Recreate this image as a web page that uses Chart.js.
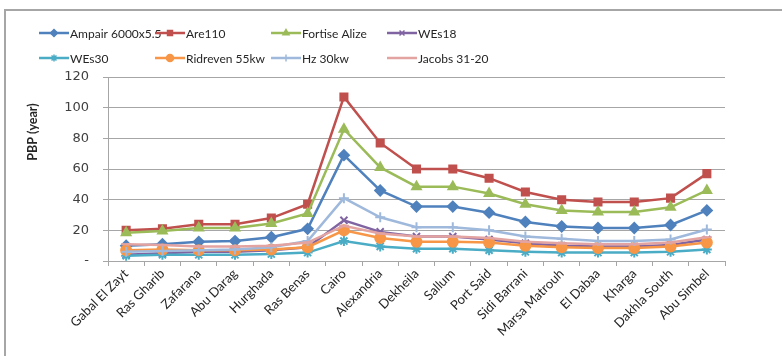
<!DOCTYPE html>
<html>
<head>
<meta charset="utf-8">
<script src="https://cdn.jsdelivr.net/npm/chart.js@4.4.1/dist/chart.umd.min.js"></script>
<style>
  html, body { margin: 0; padding: 0; background: #fff; }
  #wrap { position: relative; width: 782px; height: 356px; overflow: hidden; }
  #frame { position: absolute; left: 4px; top: 9px; width: 900px; height: 500px;
           border-top: 2px solid #a6a6a6; border-left: 2px solid #a6a6a6; }
  #pbpChart { position: absolute; left: 0; top: 0; }
</style>
</head>
<body>
<div id="wrap">
  <div id="frame"></div>
  <canvas id="pbpChart" width="782" height="356"></canvas>
</div>
<script>
// Sites (x axis categories)
const sites = ['Gabal El Zayt', 'Ras Gharib', 'Zafarana', 'Abu Darag', 'Hurghada', 'Ras Benas',
    'Cairo', 'Alexandria', 'Dekheila', 'Sallum', 'Port Said', 'Sidi Barrani', 'Marsa Matrouh',
    'El Dabaa', 'Kharga', 'Dakhla South', 'Abu Simbel'];

// Pay back period (years) per turbine
const ampair = [10, 11, 12.5, 13, 15.5, 21, 69, 46, 35.5, 35.5, 31.5, 25.5, 22.5, 21.5, 21.5, 23.5, 33];
const are110 = [20, 21, 24, 24, 28, 37, 107, 77, 60, 60, 54, 45, 40, 38.5, 38.5, 41, 57];
const fortise = [18.5, 19.5, 21.5, 21.5, 24.5, 31, 86, 61, 48.5, 48.5, 44, 37, 33, 32, 32, 35, 46];
const wes18 = [4, 5, 6, 6, 7, 9, 26.5, 19, 16, 16, 14, 11.5, 10, 9.5, 9.5, 10.5, 14];
const wes30 = [3.5, 4, 4, 4, 4.5, 5.5, 13, 9.5, 8, 8, 7, 6, 5.5, 5.5, 5.5, 6, 7.5];
const ridreven = [7, 7.5, 7, 7, 7.5, 9, 20, 15, 12.5, 12.5, 12, 10, 9, 8.5, 8.5, 9.5, 12];
const hz30 = [6, 6.5, 7, 7.5, 9, 13, 41, 28.5, 22, 22, 20, 16, 14.5, 13, 13, 14, 20.5];
const jacobs = [11, 10.5, 9.5, 9.5, 10, 12, 23, 18, 16, 16, 15, 12.5, 11.5, 11, 11, 12, 15.5];

const seriesNames = ['Ampair 6000x5.5', 'Are110', 'Fortise Alize', 'WEs18',
    'WEs30', 'Ridreven 55kw', 'Hz 30kw', 'Jacobs 31-20'];
const seriesValues = [ampair, are110, fortise, wes18, wes30, ridreven, hz30, jacobs];
const seriesColors = ['#4f81bd', '#c0504d', '#9bbb59', '#8064a2',
    '#4bacc6', '#f79646', '#9fb9dc', '#e3a3a1'];
const seriesMarkers = ['rectRot', 'rect', 'triangle', 'crossRot', 'star', 'circle', 'cross', 'line'];

const yTicks = [0, 20, 40, 60, 80, 100, 120];

const datasets = seriesNames.map((name, i) => ({
    label: name,
    data: seriesValues[i],
    borderColor: seriesColors[i],
    backgroundColor: seriesColors[i],
    borderWidth: 2.5,
    pointStyle: seriesMarkers[i],
    pointRadius: 5,
    pointBorderWidth: 2,
    pointBorderColor: seriesColors[i],
    pointBackgroundColor: seriesColors[i],
    tension: 0,
    fill: false,
    order: seriesNames.length - i
}));

// legend in a 4 column grid + y title, drawn like the original
const excelLegend = {
    id: 'excelLegend',
    afterDraw(chart) {
        const ctx = chart.ctx;
        ctx.save();
        ctx.font = '12px Lato, "Liberation Sans", sans-serif';
        ctx.textBaseline = 'middle';
        chart.data.datasets.forEach((ds, i) => {
            const col = i % 4, row = Math.floor(i / 4);
            const x = 39 + col * 116;
            const y = 33 + row * 25;
            ctx.strokeStyle = ds.borderColor;
            ctx.lineWidth = 2.5;
            ctx.beginPath();
            ctx.moveTo(x, y);
            ctx.lineTo(x + 30, y);
            ctx.stroke();
            ctx.fillStyle = ds.borderColor;
            ctx.lineWidth = 1.5;
            Chart.helpers.drawPoint(ctx, {pointStyle: ds.pointStyle, radius: 3.5, rotation: 0, borderWidth: 1.5}, x + 15, y);
            ctx.fillStyle = '#262626';
            ctx.fillText(ds.label, x + 31, y + 1);
        });
        // axis title
        ctx.translate(33, 132);
        ctx.rotate(-Math.PI / 2);
        ctx.textAlign = 'center';
        ctx.font = 'bold 12.5px Lato, "Liberation Sans", sans-serif';
        ctx.fillStyle = '#262626';
        ctx.fillText('PBP (year)', 0, 0);
        ctx.restore();
    }
};

const ctx = document.getElementById('pbpChart').getContext('2d');
new Chart(ctx, {
    type: 'line',
    data: { labels: sites, datasets: datasets },
    options: {
        responsive: false,
        animation: false,
        layout: { padding: { top: 77, right: 57, bottom: 0, left: 10 } },
        plugins: { legend: { display: false }, tooltip: { enabled: false } },
        scales: {
            x: {
                offset: true,
                grid: { display: true, drawOnChartArea: false, drawTicks: true, tickLength: 5, offset: true, color: '#a6a6a6' },
                border: { display: true, color: '#a6a6a6', width: 1 },
                ticks: {
                    autoSkip: false, minRotation: 45, maxRotation: 45, padding: 0,
                    color: '#262626', font: { family: 'Lato, "Liberation Sans", sans-serif', size: 13 }
                },
                afterFit(scale) { scale.height = 95; }
            },
            y: {
                min: 0, max: 120,
                afterBuildTicks(scale) { scale.ticks = yTicks.map(v => ({ value: v })); },
                grid: { color: '#a6a6a6', lineWidth: 1, tickLength: 5 },
                border: { display: true, color: '#a6a6a6', width: 1 },
                ticks: {
                    padding: 14, color: '#404040',
                    font: { family: '"DejaVu Sans", sans-serif', size: 13 },
                    callback: v => (v === 0 ? '-' : v)
                },
                afterFit(scale) { scale.width = 98; }
            }
        }
    },
    plugins: [excelLegend]
});
</script>
</body>
</html>
